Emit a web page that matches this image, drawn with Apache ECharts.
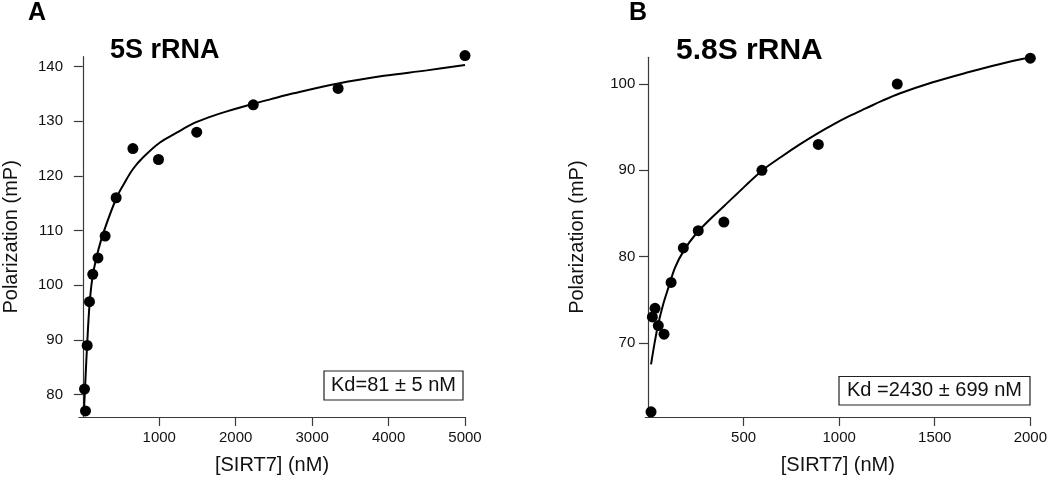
<!DOCTYPE html>
<html>
<head>
<meta charset="utf-8">
<script src="https://cdn.jsdelivr.net/npm/echarts@6/dist/echarts.min.js"></script>
<style>html,body{margin:0;padding:0;background:#fff;}#c{width:1050px;height:480px;}</style>
</head>
<body>
<div id="c"></div>
<script>
// Panel A: 5S rRNA
const xA = [22, 35, 57, 87, 130, 198, 292, 436, 655, 990, 1490, 2230, 3340, 5000];
const yA = [81, 77, 89, 97, 102, 105, 109, 116, 125, 123, 128, 133, 136, 142];
const fitAx = [12, 35, 56, 88, 127, 200, 289, 441, 528, 659, 790, 1009, 1228, 1446, 1665, 1884, 2233, 2451, 2758, 3340, 3939, 4500, 5000];
const fitAy = [76.2, 83.0, 89.0, 96.5, 101.5, 106.3, 110.4, 116.0, 118.3, 121.3, 123.4, 126.1, 127.9, 129.6, 130.8, 131.8, 133.2, 134.0, 135.1, 136.9, 138.3, 139.3, 140.3];
const xTicksA = [1000, 2000, 3000, 4000, 5000];
const yTicksA = [80, 90, 100, 110, 120, 130, 140];

// Panel B: 5.8S rRNA
const xB = [16, 23, 37, 54, 84, 121, 185, 263, 397, 596, 891, 1304, 2000];
const yB = [62, 73, 74, 72, 71, 77, 81, 83, 84, 90, 93, 100, 103];
const fitBx = [16, 34, 54, 80, 107, 141, 185, 246, 333, 400, 450, 596, 700, 794, 881, 968, 1055, 1142, 1229, 1316, 1490, 1664, 1838, 2000];
const fitBy = [67.5, 69.9, 72.2, 74.5, 76.4, 78.7, 80.6, 82.5, 84.5, 85.9, 86.95, 89.95, 91.6, 93.0, 94.2, 95.3, 96.3, 97.2, 98.1, 98.9, 100.2, 101.3, 102.3, 103.1];
const xTicksB = [500, 1000, 1500, 2000];
const yTicksB = [70, 80, 90, 100];

const txt = '#111';
const axisCol = '#3a3a3a';
const FF = 'Liberation Sans, Arial, sans-serif';

function pairs(xs, ys) { return xs.map((x, i) => [x, ys[i]]); }
const plain = v => String(v);

function xAxis(idx, min, max, ticks) {
  return {
    type: 'value', gridIndex: idx, min: min, max: max,
    name: '[SIRT7] (nM)', nameLocation: 'middle', nameGap: 38,
    nameTextStyle: { fontFamily: FF, fontSize: 20, color: txt },
    axisLine: { show: true, lineStyle: { color: axisCol, width: 1.2 } },
    axisTick: { show: true, inside: false, length: 9, customValues: ticks, lineStyle: { color: axisCol, width: 1.2 } },
    axisLabel: { customValues: ticks, formatter: plain, margin: 13, fontFamily: FF, fontSize: 15, color: txt },
    splitLine: { show: false }
  };
}
function yAxis(idx, min, max, ticks, margin) {
  return {
    type: 'value', gridIndex: idx, min: min, max: max,
    name: 'Polarization (mP)', nameLocation: 'middle', nameRotate: 90, nameGap: 58,
    nameTextStyle: { fontFamily: FF, fontSize: 20, color: txt },
    axisLine: { show: true, lineStyle: { color: axisCol, width: 1.2 } },
    axisTick: { show: true, inside: false, length: 9, customValues: ticks, lineStyle: { color: axisCol, width: 1.2 } },
    axisLabel: { customValues: ticks, formatter: plain, margin: margin, fontFamily: FF, fontSize: 15, color: txt },
    splitLine: { show: false }
  };
}

const chart = echarts.init(document.getElementById('c'));
chart.setOption({
  backgroundColor: '#fff',
  animation: false,
  grid: [
    { left: 79, top: 56.7, width: 386, height: 364 },
    { left: 645.3, top: 57.3, width: 385.7, height: 363.4 }
  ],
  xAxis: [xAxis(0, -50, 5000, xTicksA), xAxis(1, -14, 2000, xTicksB)],
  yAxis: [yAxis(0, 75.9, 141.8, yTicksA, 16), yAxis(1, 61.4, 103.1, yTicksB, 10)],
  series: [
    { type: 'line', xAxisIndex: 0, yAxisIndex: 0, data: pairs(fitAx, fitAy), smooth: 0.35,
      showSymbol: false, lineStyle: { color: '#000', width: 2 }, clip: false, z: 2 },
    { type: 'scatter', xAxisIndex: 0, yAxisIndex: 0, data: pairs(xA, yA), symbol: 'circle', symbolSize: 11,
      itemStyle: { color: '#000', opacity: 1 }, clip: false, z: 3 },
    { type: 'line', xAxisIndex: 1, yAxisIndex: 1, data: pairs(fitBx, fitBy), smooth: 0.35,
      showSymbol: false, lineStyle: { color: '#000', width: 2 }, clip: false, z: 2 },
    { type: 'scatter', xAxisIndex: 1, yAxisIndex: 1, data: pairs(xB, yB), symbol: 'circle', symbolSize: 11,
      itemStyle: { color: '#000', opacity: 1 }, clip: false, z: 3 }
  ],
  graphic: [
    { type: 'text', left: 28, top: 1, style: { text: 'A', font: 'bold 25px ' + FF, fill: '#000' } },
    { type: 'text', left: 110, top: 37, style: { text: '5S rRNA', font: 'bold 27px ' + FF, fill: '#000' } },
    { type: 'text', left: 629, top: 1, style: { text: 'B', font: 'bold 25px ' + FF, fill: '#000' } },
    { type: 'text', left: 676, top: 36, style: { text: '5.8S rRNA', font: 'bold 30px ' + FF, fill: '#000' } },
    { type: 'rect', shape: { x: 324, y: 371, width: 139, height: 29 }, style: { fill: '#fff', stroke: '#222', lineWidth: 1.2 } },
    { type: 'text', x: 393.5, y: 385.5, style: { text: 'Kd=81 ± 5 nM', font: '20px ' + FF, fill: txt, align: 'center', verticalAlign: 'middle' } },
    { type: 'rect', shape: { x: 839, y: 376.5, width: 191, height: 28.5 }, style: { fill: '#fff', stroke: '#222', lineWidth: 1.2 } },
    { type: 'text', x: 934.5, y: 390.8, style: { text: 'Kd =2430 ± 699 nM', font: '20px ' + FF, fill: txt, align: 'center', verticalAlign: 'middle' } }
  ]
});
</script>
</body>
</html>
